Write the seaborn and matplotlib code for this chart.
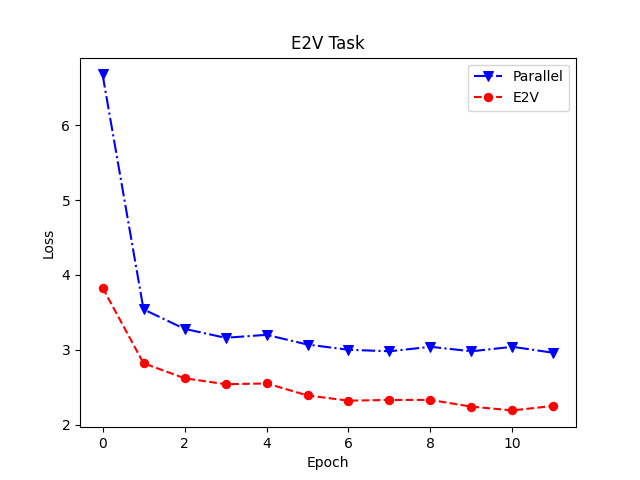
import matplotlib
matplotlib.use("Agg")
import matplotlib.pyplot as plt
import seaborn as sns

epochs = list(range(12))
parallel_loss = [6.68, 3.54, 3.28, 3.16, 3.20, 3.07, 3.00, 2.98, 3.04, 2.98, 3.04, 2.96]
e2v_loss = [3.83, 2.82, 2.62, 2.54, 2.55, 2.39, 2.32, 2.33, 2.33, 2.24, 2.19, 2.25]

fig, ax = plt.subplots(figsize=(6.4, 4.8), dpi=100)
sns.lineplot(x=epochs, y=parallel_loss, ax=ax, color="blue", linestyle="-.",
             marker="v", markersize=7, markeredgecolor="blue", label="Parallel")
sns.lineplot(x=epochs, y=e2v_loss, ax=ax, color="red", linestyle="--",
             marker="o", markersize=6, markeredgecolor="red", label="E2V")
ax.set_title("E2V Task")
ax.set_xlabel("Epoch")
ax.set_ylabel("Loss")
ax.legend(loc="upper right")
fig.savefig("out.png")
